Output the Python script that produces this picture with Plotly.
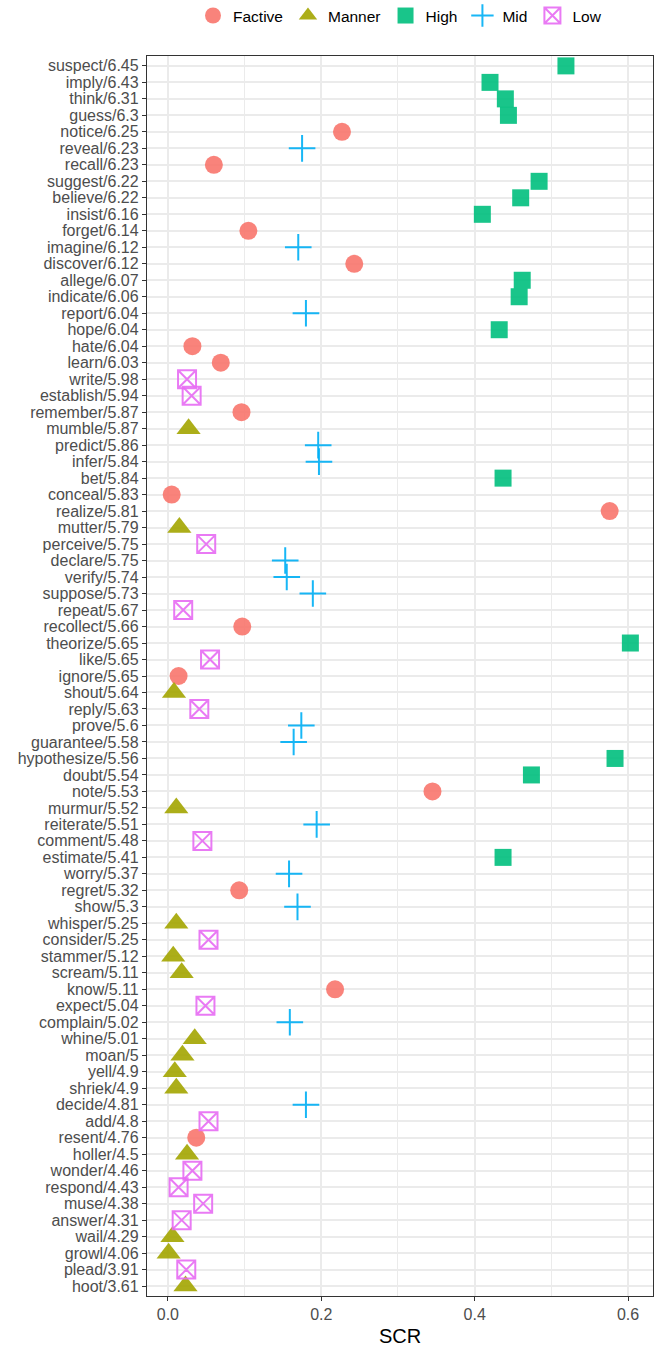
import plotly.graph_objects as go

# ---- data (top to bottom as shown) ----
verbs = ["suspect", "imply", "think", "guess", "notice", "reveal", "recall", "suggest",
         "believe", "insist", "forget", "imagine", "discover", "allege", "indicate",
         "report", "hope", "hate", "learn", "write", "establish", "remember", "mumble",
         "predict", "infer", "bet", "conceal", "realize", "mutter", "perceive", "declare",
         "verify", "suppose", "repeat", "recollect", "theorize", "like", "ignore", "shout",
         "reply", "prove", "guarantee", "hypothesize", "doubt", "note", "murmur",
         "reiterate", "comment", "estimate", "worry", "regret", "show", "whisper",
         "consider", "stammer", "scream", "know", "expect", "complain", "whine", "moan",
         "yell", "shriek", "decide", "add", "resent", "holler", "wonder", "respond",
         "muse", "answer", "wail", "growl", "plead", "hoot"]

scores = [6.45, 6.43, 6.31, 6.3, 6.25, 6.23, 6.23, 6.22, 6.22, 6.16, 6.14, 6.12, 6.12,
          6.07, 6.06, 6.04, 6.04, 6.04, 6.03, 5.98, 5.94, 5.87, 5.87, 5.86, 5.84, 5.84,
          5.83, 5.81, 5.79, 5.75, 5.75, 5.74, 5.73, 5.67, 5.66, 5.65, 5.65, 5.65, 5.64,
          5.63, 5.6, 5.58, 5.56, 5.54, 5.53, 5.52, 5.51, 5.48, 5.41, 5.37, 5.32, 5.3,
          5.25, 5.25, 5.12, 5.11, 5.11, 5.04, 5.02, 5.01, 5.0, 4.9, 4.9, 4.81, 4.8, 4.76,
          4.5, 4.46, 4.43, 4.38, 4.31, 4.29, 4.06, 3.91, 3.61]

classes = ["High", "High", "High", "High", "Factive", "Mid", "Factive", "High",
           "High", "High", "Factive", "Mid", "Factive", "High", "High",
           "Mid", "High", "Factive", "Factive", "Low", "Low", "Factive", "Manner",
           "Mid", "Mid", "High", "Factive", "Factive", "Manner", "Low", "Mid",
           "Mid", "Mid", "Low", "Factive", "High", "Low", "Factive", "Manner",
           "Low", "Mid", "Mid", "High", "High", "Factive", "Manner",
           "Mid", "Low", "High", "Mid", "Factive", "Mid", "Manner",
           "Low", "Manner", "Manner", "Factive", "Low", "Mid", "Manner", "Manner",
           "Manner", "Manner", "Mid", "Low", "Factive", "Manner", "Low", "Low",
           "Low", "Low", "Manner", "Manner", "Low", "Manner"]

scr = [0.519, 0.420, 0.440, 0.444, 0.227, 0.175, 0.060, 0.484,
       0.460, 0.410, 0.105, 0.170, 0.243, 0.462, 0.458,
       0.180, 0.432, 0.032, 0.069, 0.025, 0.031, 0.096, 0.027,
       0.196, 0.197, 0.437, 0.005, 0.576, 0.015, 0.050, 0.153,
       0.155, 0.189, 0.020, 0.097, 0.603, 0.055, 0.014, 0.008,
       0.041, 0.174, 0.164, 0.583, 0.474, 0.345, 0.011,
       0.194, 0.045, 0.437, 0.158, 0.093, 0.169, 0.011,
       0.053, 0.007, 0.018, 0.218, 0.049, 0.159, 0.035, 0.019,
       0.009, 0.011, 0.180, 0.053, 0.037, 0.025, 0.032, 0.014,
       0.046, 0.018, 0.006, 0.001, 0.024, 0.023]

class_order = ["Factive", "Manner", "High", "Mid", "Low"]
class_colors = ["#F8766D", "#A3A500", "#00BF7D", "#00B0F6", "#E76BF3"]
class_symbols = ["circle", "triangle-up", "square", "cross-thin", "square-x-open"]
class_sizes = [18, 21, 17, 19, 18]

labels = [f"{v}/{s:g}" for v, s in zip(verbs, scores)]

fig = go.Figure()
for cls, col, sym, sz in zip(class_order, class_colors, class_symbols, class_sizes):
    xs = [x for x, c in zip(scr, classes) if c == cls]
    ys = [l for l, c in zip(labels, classes) if c == cls]
    marker = dict(symbol=sym, size=sz, color=col, opacity=0.9)
    if sym in ("cross-thin", "square-x-open"):
        marker["line"] = dict(color=col, width=2)
    else:
        marker["line"] = dict(width=0)
    fig.add_trace(go.Scatter(x=xs, y=ys, mode="markers", name=cls, marker=marker,
                             cliponaxis=False))

font_family = "Liberation Sans, Arial, Helvetica, sans-serif"

fig.update_layout(
    template="none",
    width=664, height=1348,
    margin=dict(l=146.5, r=11, t=56, b=52, autoexpand=False),
    paper_bgcolor="white", plot_bgcolor="white",
    font=dict(family=font_family, size=16, color="#4D4D4D"),
    showlegend=True,
    legend=dict(orientation="h", x=0.5, xanchor="center", y=1.0323, yanchor="middle",
                font=dict(size=15.5, color="black"), itemwidth=30,
                bgcolor="rgba(0,0,0,0)"),
    xaxis=dict(
        title=dict(text="SCR", font=dict(size=20, color="black"), standoff=6),
        automargin=False,
        range=[-0.0272, 0.6325],
        tickmode="array", tickvals=[0.0, 0.2, 0.4, 0.6],
        ticktext=["0.0", "0.2", "0.4", "0.6"],
        showgrid=True, gridcolor="#EBEBEB", gridwidth=1.6,
        minor=dict(tickvals=[0.1, 0.3, 0.5], showgrid=True, gridcolor="#EBEBEB",
                   gridwidth=0.9, ticks=""),
        showline=True, linecolor="#333333", linewidth=1.3, mirror=True,
        ticks="outside", ticklen=4, tickwidth=1.2, tickcolor="#333333",
        tickfont=dict(size=16, color="#4D4D4D"),
        zeroline=False,
    ),
    yaxis=dict(
        type="category", categoryorder="array", categoryarray=labels[::-1],
        automargin=False,
        tickmode="array", tickvals=labels, ticktext=labels,
        range=[-0.6, len(labels) - 0.4],
        showgrid=True, gridcolor="#EBEBEB", gridwidth=1.6,
        showline=True, linecolor="#333333", linewidth=1.3, mirror=True,
        ticks="outside", ticklen=4, tickwidth=1.2, tickcolor="#333333",
        tickfont=dict(size=16, color="#4D4D4D"),
        zeroline=False,
    ),
)

fig.write_html("out.html", config={"displayModeBar": False},
               post_script="document.body.style.margin='0';")
